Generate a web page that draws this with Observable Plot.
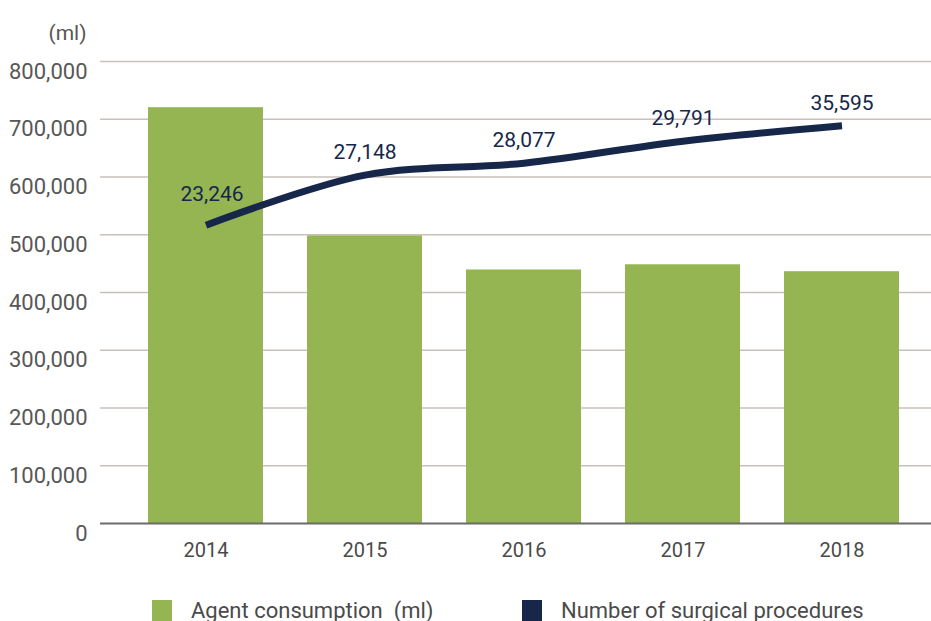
<!DOCTYPE html>
<html>
<head>
<meta charset="utf-8">
<script src="https://cdn.jsdelivr.net/npm/d3@7"></script>
<script src="https://cdn.jsdelivr.net/npm/@observablehq/plot@0.6"></script>
<style>
  html, body { margin: 0; padding: 0; background: #fff; }
  body { width: 931px; height: 621px; overflow: hidden; font-family: Roboto, "Noto Sans", sans-serif; }
  #legend { display: flex; align-items: center; height: 24px; margin-top: 13px; padding-left: 152px; font-size: 22px; color: #4a4a4a; }
  .item { display: flex; align-items: center; white-space: pre; }
  .item:first-child { width: 370px; }
  .sw { width: 20px; height: 21px; margin-right: 19px; }
</style>
</head>
<body>
<div id="chart"></div>
<div id="legend"></div>
<script>
const years = ["2014", "2015", "2016", "2017", "2018"];
const agentConsumption = [720000, 498000, 439000, 448000, 436000];
const procedureLabels = [23246, 27148, 28077, 29791, 35595];
// line as drawn on the (hidden) secondary axis 0–36,000
const procedurePlotted = [23246, 27148, 28077, 29791, 30990];
const secondaryMax = 36000;
const yTicks = [0, 100000, 200000, 300000, 400000, 500000, 600000, 700000, 800000];
const seriesNames = ["Agent consumption  (ml)", "Number of surgical procedures"];
const colors = ["#95b553", "#17274a"];

const yMax = 800000;
const bars = years.map((y, i) => ({year: y, value: agentConsumption[i]}));
const line = years.map((y, i) => ({year: y, v: procedurePlotted[i] * yMax / secondaryMax, label: d3.format(",")(procedureLabels[i])}));

const chart = Plot.plot({
  width: 931,
  height: 585,
  marginTop: 61,
  marginBottom: 62,
  marginLeft: 100,
  marginRight: 0,
  style: {fontFamily: "Roboto, sans-serif", background: "#fff", overflow: "visible"},
  x: {domain: years, insetLeft: 25, insetRight: 10, paddingInner: 0.278, paddingOuter: 0.139, label: null},
  y: {domain: [0, yMax], label: null},
  marks: [
    Plot.ruleY(yTicks.filter(d => d > 0), {stroke: "#c9c0bc", strokeWidth: 1.5}),
    Plot.barY(bars, {x: "year", y: "value", fill: colors[0]}),
    Plot.ruleY([0], {stroke: "#6b6b6b", strokeWidth: 2}),
    Plot.axisY({ticks: yTicks, tickSize: 0, tickPadding: 13, dy: 10, tickFormat: d3.format(","), fontSize: 22, fill: "#575757", label: null}),
    Plot.axisX({tickSize: 0, tickPadding: 19, fontSize: 20, fill: "#4a4a4a", label: null}),
    Plot.text(["(ml)"], {frameAnchor: "top-left", textAnchor: "end", dx: -14, dy: -36, fontSize: 21, fill: "#575757"}),
    Plot.line(line, {x: "year", y: "v", stroke: colors[1], strokeWidth: 7, strokeLinecap: "butt", curve: "catmull-rom"}),
    Plot.text(line.filter((d, i) => i === 0), {x: "year", y: "v", text: "label", dx: 6, dy: -31, fontSize: 21, fill: colors[1]}),
    Plot.text(line.filter((d, i) => i > 0), {x: "year", y: "v", text: "label", dy: -23, fontSize: 21, fill: colors[1]})
  ]
});
document.getElementById("chart").appendChild(chart);

const legend = document.getElementById("legend");
seriesNames.forEach((name, i) => {
  const item = document.createElement("div");
  item.className = "item";
  const sw = document.createElement("div");
  sw.className = "sw";
  sw.style.background = colors[i];
  const t = document.createElement("span");
  t.textContent = name;
  item.appendChild(sw);
  item.appendChild(t);
  legend.appendChild(item);
});
</script>
</body>
</html>
